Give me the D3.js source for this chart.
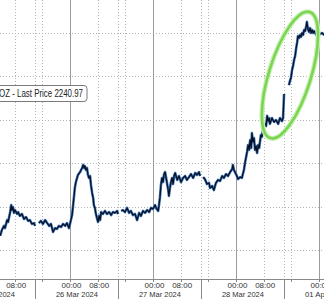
<!DOCTYPE html>
<html><head><meta charset="utf-8">
<script src="https://cdn.jsdelivr.net/npm/d3@7"></script>
<style>
html,body{margin:0;padding:0;background:#fff;overflow:hidden}
svg{display:block}
text{font-family:"Liberation Sans",Arial,sans-serif}
</style></head>
<body>
<svg id="c" width="324" height="299"></svg>
<script>
// ---- data (session hours counted from 25 Mar 2024 00:00, weekend/holiday collapsed) ----
const dayLabels = ["25 Mar 2024","26 Mar 2024","27 Mar 2024","28 Mar 2024","01 Apr 2024"];
const dayStartHours = [0,24,48,72,96];
const timeTickLabels = ["00:00","08:00"];
const sessionBreakHours = [-10,14,38,62,86,110];
const priceGrid = [2140,2160,2180,2200,2220,2240,2260];
const legendText = "OZ - Last Price 2240.97";

const sessionHours = [
 3.8,4.3,4.9,5.2,5.8,6.1,6.7,7.0,7.2,7.5,7.8,8.1,8.7,9.0,9.5,10.1,10.7,11.3,11.9,12.4,13.0,13.6,13.9,
 14.5,
 15.0,15.6,16.2,16.8,17.4,18.0,18.5,19.1,19.7,20.2,20.8,21.4,22.0,22.6,23.1,23.7,24.0,24.6,24.9,25.2,25.4,25.7,26.3,26.9,27.5,27.8,28.1,28.3,28.6,28.9,29.2,29.5,29.8,30.1,30.4,30.7,30.9,31.2,31.5,31.8,32.1,32.4,32.7,33.0,33.5,34.1,34.7,35.3,35.9,36.4,37.0,37.6,37.9,
 38.4,
 38.8,39.3,39.9,40.5,41.1,41.6,42.2,42.8,43.4,44.0,44.5,45.1,45.7,46.3,46.9,47.4,48.0,48.6,48.9,49.5,49.7,50.0,50.3,50.6,50.9,51.2,51.5,51.8,52.1,52.4,52.6,52.9,53.2,53.5,53.8,54.1,54.4,55.0,55.5,56.1,56.7,57.3,57.8,58.4,59.0,59.6,60.2,60.7,61.3,61.6,
 62.0,
 62.5,63.0,63.6,64.2,64.5,65.1,65.6,66.2,66.8,67.4,68.0,68.5,69.1,69.7,70.3,70.9,71.1,71.4,72.0,72.6,73.2,73.7,74.3,74.6,75.2,75.5,75.8,76.1,76.4,76.6,76.9,77.2,77.5,77.8,78.1,78.4,78.7,79.0,79.2,79.5,79.8,80.4,80.7,81.0,81.3,81.6,81.8,82.4,83.0,83.6,84.2,84.7,85.3,85.6,85.9,
 86.6,
 87.3,87.6,87.9,88.2,88.5,88.8,89.1,89.4,89.7,89.9,90.2,90.5,90.8,91.1,91.4,91.7,92.0,92.3,92.5,92.8,93.1,93.4,93.7,94.0,94.3,94.6,95.2,95.7,96.3,96.9,97.5
];
const goldPrice = [
 2146.5,2149.2,2151.1,2150.1,2153.8,2152.9,2157.5,2160.7,2158.4,2159.8,2157.1,2158.4,2156.6,2157.5,2155.7,2156.6,2154.3,2155.2,2153.4,2153.8,2152.0,2152.4,2151.1,
 null,
 2152.4,2153.4,2152.0,2153.8,2152.4,2151.1,2152.0,2148.3,2150.1,2149.7,2151.1,2150.6,2152.0,2151.1,2152.4,2150.1,2152.0,2156.1,2160.7,2165.3,2168.6,2171.3,2174.6,2175.9,2177.8,2179.2,2177.8,2178.7,2176.9,2177.8,2174.6,2173.2,2174.1,2169.5,2166.3,2164.0,2160.7,2159.4,2156.6,2154.7,2152.9,2155.7,2153.8,2157.5,2156.6,2158.0,2156.6,2157.5,2156.1,2157.5,2157.1,2158.0,2156.6,
 null,
 2158.0,2158.4,2157.5,2159.4,2157.1,2158.0,2156.1,2156.6,2153.8,2157.1,2155.7,2158.0,2157.1,2158.4,2157.5,2159.4,2158.9,2160.7,2159.4,2158.0,2160.3,2164.0,2170.0,2173.2,2171.3,2175.0,2175.9,2173.2,2170.4,2167.6,2164.9,2168.6,2171.3,2173.2,2170.4,2174.1,2175.5,2172.3,2174.1,2171.3,2173.2,2174.1,2172.3,2173.6,2175.0,2173.2,2175.5,2174.6,2175.9,2174.1,
 null,
 2173.6,2172.7,2170.4,2170.9,2168.6,2169.5,2167.6,2170.9,2172.3,2171.8,2174.1,2173.2,2175.0,2174.1,2175.9,2177.3,2179.2,2176.9,2175.0,2172.7,2173.6,2173.2,2176.9,2180.1,2185.2,2188.4,2186.1,2190.7,2187.0,2193.9,2189.8,2191.6,2186.1,2187.9,2184.7,2188.4,2187.0,2190.7,2193.0,2192.1,2196.2,2198.1,2197.1,2201.8,2199.4,2200.8,2198.1,2200.8,2199.0,2199.9,2198.1,2200.8,2199.4,2200.8,2211.9,
 null,
 2216.0,2217.9,2219.3,2222.9,2224.8,2227.6,2229.4,2233.1,2235.9,2238.6,2237.7,2239.1,2238.2,2240.0,2239.1,2241.4,2240.9,2243.2,2245.1,2241.8,2240.5,2242.3,2240.0,2241.4,2240.0,2240.9,2239.1,2240.0,2239.5,2240.0,2239.1
];

// ---- layout ----
const W = 324, H = 299, axisY = 279;
const svg = d3.select("#c");
const x = d3.scaleLinear().domain([0,96]).range([-13,319]);
const y = d3.scaleLinear().domain([2140,2240]).range([250,33]);

svg.append("rect").attr("width",W).attr("height",H).attr("fill","#fff");

const grid = svg.append("g");
// horizontal dotted gridlines
grid.selectAll("line.h").data(priceGrid).join("line")
  .attr("x1",0).attr("x2",W).attr("y1",d=>Math.round(y(d))+0.5).attr("y2",d=>Math.round(y(d))+0.5)
  .attr("stroke","#b4b4b4").attr("stroke-dasharray","1,2");

// vertical gridlines
const dotted = [];
dayStartHours.concat([-24,120]).forEach(d=>{ dotted.push(d+8, d+16); });
sessionBreakHours.forEach(h=>dotted.push(h));
grid.selectAll("line.vd").data(dotted).join("line")
  .attr("x1",d=>Math.round(x(d))+0.5).attr("x2",d=>Math.round(x(d))+0.5)
  .attr("y1",0).attr("y2",axisY)
  .attr("stroke","#b4b4b4").attr("stroke-dasharray","1,2");
grid.selectAll("line.vs").data(dayStartHours).join("line")
  .attr("x1",d=>Math.round(x(d))+0.5).attr("x2",d=>Math.round(x(d))+0.5)
  .attr("y1",0).attr("y2",axisY)
  .attr("stroke","#9c9c9c").attr("stroke-width",1);

// price line
const pts = sessionHours.map((h,i)=>({h, p:goldPrice[i]}));
const line = d3.line().defined(d=>d.p!==null).x(d=>x(d.h)).y(d=>y(d.p));
svg.append("defs").append("clipPath").attr("id","clip")
  .append("rect").attr("x",0).attr("y",0).attr("width",W).attr("height",axisY);
const plot = svg.append("g").attr("clip-path","url(#clip)");
plot.append("path").datum(pts).attr("d",line)
  .attr("fill","none").attr("stroke","#3a74bd").attr("stroke-width",2.6).attr("stroke-linejoin","round");
plot.append("path").datum(pts).attr("d",line)
  .attr("fill","none").attr("stroke","#0a0f1c").attr("stroke-width",1.2).attr("stroke-linejoin","round");

// green highlight ellipse (around the 28 Mar rally)
const ex = x(87.6), ey = y(2220.6);
const eg = svg.append("g").attr("transform",`translate(${ex},${ey}) rotate(-72.7)`);
eg.append("ellipse").attr("rx",66).attr("ry",21).attr("fill","none")
  .attr("stroke","#c9f0b6").attr("stroke-width",5);
eg.append("ellipse").attr("rx",66).attr("ry",21).attr("fill","none")
  .attr("stroke","#7ad650").attr("stroke-width",2.6);

// legend box
const lg = svg.append("g");
lg.append("rect").attr("x",-6).attr("y",85.5).attr("width",93).attr("height",16).attr("rx",3)
  .attr("fill","#fff").attr("stroke","#7a7a7a").attr("stroke-width",1);
lg.append("text").attr("x",83).attr("y",97).attr("text-anchor","end")
  .attr("font-size",10).attr("fill","#222")
  .attr("textLength",84).attr("lengthAdjust","spacingAndGlyphs")
  .text(legendText);

// bottom axis
const ax = svg.append("g");
ax.append("rect").attr("x",0).attr("y",axisY).attr("width",W).attr("height",H-axisY).attr("fill","#fff");
ax.append("line").attr("x1",0).attr("x2",W).attr("y1",axisY+0.5).attr("y2",axisY+0.5)
  .attr("stroke","#8a8a8a");
// small ticks
const smallTicks = [];
[-24].concat(dayStartHours,[120]).forEach(d=>smallTicks.push(d,d+8,d+16));
ax.selectAll("line.st").data(smallTicks).join("line")
  .attr("x1",d=>Math.round(x(d))+0.5).attr("x2",d=>Math.round(x(d))+0.5)
  .attr("y1",axisY).attr("y2",axisY+3).attr("stroke","#8a8a8a");
// session separators
ax.selectAll("line.sep").data(sessionBreakHours).join("line")
  .attr("x1",d=>Math.round(x(d))+0.5).attr("x2",d=>Math.round(x(d))+0.5)
  .attr("y1",axisY).attr("y2",H).attr("stroke","#8a8a8a");
// time labels
const tl = [];
[-24].concat(dayStartHours).forEach(d=>{ tl.push({h:d,t:timeTickLabels[0]}); tl.push({h:d+8,t:timeTickLabels[1]}); });
ax.selectAll("text.tl").data(tl.filter(d=>d.h>=0)).join("text")
  .attr("x",d=>x(d.h)+1.5).attr("y",287.5).attr("text-anchor","middle")
  .attr("font-size",8).attr("fill","#333").text(d=>d.t);
// day labels, centred between session separators
const dl = [{h:-24+2,t:"25 Mar 2024"}].concat(dayStartHours.map((d,i)=>({h:d+2,t:dayLabels[i]})));
ax.selectAll("text.dl").data(dl).join("text")
  .attr("x",d=>x(d.h)).attr("y",296.8).attr("text-anchor","middle")
  .attr("font-size",8).attr("fill","#333")
  .attr("textLength",42).attr("lengthAdjust","spacingAndGlyphs")
  .text(d=>d.t);
</script>
</body></html>
